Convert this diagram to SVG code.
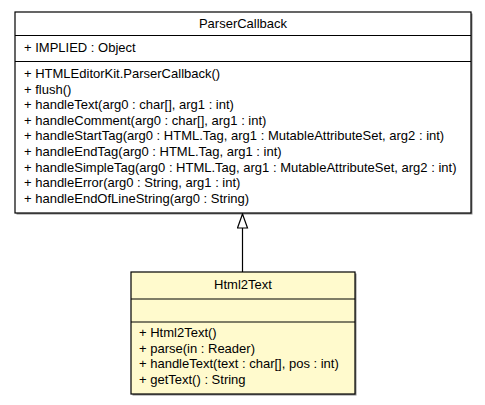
<svg xmlns="http://www.w3.org/2000/svg" width="485" height="405" viewBox="0 0 485 405">
<style>
.box{stroke:#000;stroke-width:1.2}
.sh{fill:#8a8a8a}
.sep{stroke:#000;stroke-width:1.2}
text{font-family:"Liberation Sans",Arial,sans-serif;font-size:13px;fill:#000}
.c{text-anchor:middle}
.conn{stroke:#000;stroke-width:1.2;fill:none}
</style>
<defs>
<marker id="tri" markerWidth="16" markerHeight="12" refX="15" refY="6" orient="auto" markerUnits="userSpaceOnUse" viewBox="0 0 16 12">
<path d="M15,6 L1,1 L1,11 Z" fill="#fff" stroke="#000" stroke-width="1.2"/>
</marker>
</defs>
<g id="ParserCallback">
<rect class="sh" x="16.5" y="13.5" width="456" height="201"/>
<rect class="box" x="15" y="12" width="456" height="201" fill="#fff"/>
<line class="sep" x1="15" y1="35.5" x2="471" y2="35.5"/>
<line class="sep" x1="15" y1="61.5" x2="471" y2="61.5"/>
<text class="c" x="243" y="28">ParserCallback</text>
<text x="24" y="52">+ IMPLIED : Object</text>
<text x="24" y="78">+ HTMLEditorKit.ParserCallback()</text>
<text x="24" y="94">+ flush()</text>
<text x="24" y="109">+ handleText(arg0 : char[], arg1 : int)</text>
<text x="24" y="125">+ handleComment(arg0 : char[], arg1 : int)</text>
<text x="24" y="140">+ handleStartTag(arg0 : HTML.Tag, arg1 : MutableAttributeSet, arg2 : int)</text>
<text x="24" y="156">+ handleEndTag(arg0 : HTML.Tag, arg1 : int)</text>
<text x="24" y="172">+ handleSimpleTag(arg0 : HTML.Tag, arg1 : MutableAttributeSet, arg2 : int)</text>
<text x="24" y="187">+ handleError(arg0 : String, arg1 : int)</text>
<text x="24" y="203">+ handleEndOfLineString(arg0 : String)</text>
</g>
<g id="Html2Text">
<rect class="sh" x="132.5" y="273.5" width="224" height="122"/>
<rect class="box" x="131" y="272" width="224" height="122" fill="#fffacd"/>
<line class="sep" x1="131" y1="299" x2="355" y2="299"/>
<line class="sep" x1="131" y1="322" x2="355" y2="322"/>
<text class="c" x="243" y="289">Html2Text</text>
<text x="139" y="337">+ Html2Text()</text>
<text x="139" y="353">+ parse(in : Reader)</text>
<text x="139" y="368">+ handleText(text : char[], pos : int)</text>
<text x="139" y="384">+ getText() : String</text>
</g>
<g id="connectors">
<line class="conn" x1="242.5" y1="272" x2="242.5" y2="214" marker-end="url(#tri)"/>
</g>
</svg>
